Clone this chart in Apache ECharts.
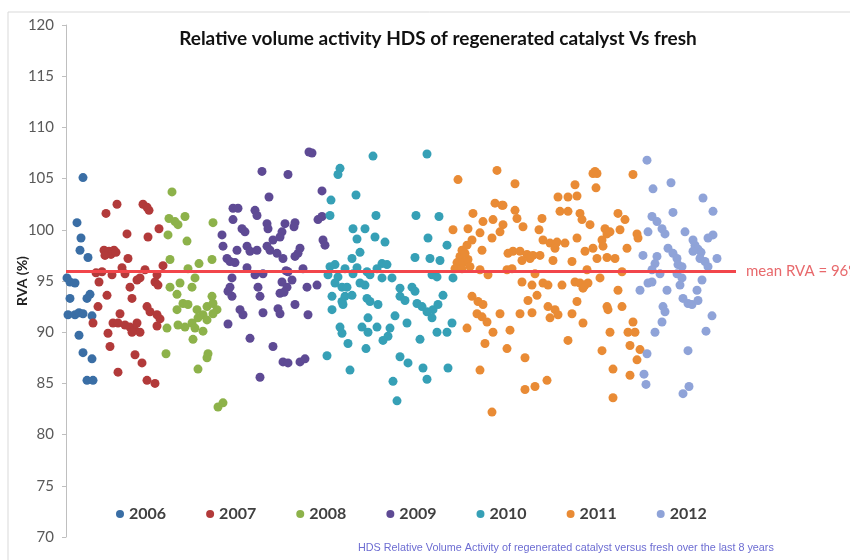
<!DOCTYPE html>
<html>
<head>
<meta charset="utf-8">
<script src="https://cdn.jsdelivr.net/npm/echarts@6/dist/echarts.min.js"></script>
<style>
  html, body { margin: 0; padding: 0; background: #fff; }
  #chart { width: 850px; height: 560px; }
</style>
</head>
<body>
<div id="chart"></div>
<script>
// sample index (x) vs RVA % (y), one array per year
const years = ['2006', '2007', '2008', '2009', '2010', '2011', '2012']
const colors = ['#3A6EA5', '#B23A3A', '#8DB24A', '#5E4A94', '#36A0B6', '#E98B35', '#8FA3D8']
const meanRVA = 96
const yTicks = { min: 70, max: 120, step: 5 }

const s2006 = [
  [17,105.1],[11,100.7],[15,99.2],[14,98.0],[22,97.3],[1,95.3],[4,94.9],[9,94.8],[4,93.3],[24,93.7],[21,93.3],
  [2,91.7],[9,91.7],[13,91.9],[17,91.8],[26,91.6],[13,89.7],[17,88.0],[26,87.4],[21,85.3],[27,85.3]
]
const s2007 = [
  [51,102.5],[40,101.6],[77,102.5],[83,101.9],[81,102.2],[93,100.1],[61,99.6],[82,99.3],
  [38,98.0],[43,97.9],[48,98.0],[45,97.6],[39,97.5],[50,97.8],[62,97.2],[97,96.5],
  [30,95.8],[36,95.9],[46,95.6],[56,96.3],[59,95.7],[74,95.3],[79,96.1],[71,95.1],[91,95.6],
  [33,94.9],[64,94.4],[89,94.9],[92,94.6],[41,93.6],[66,93.3],
  [81,92.5],[84,92.0],[91,91.7],[94,91.3],[32,92.5],[54,91.8],[27,90.9],
  [47,90.9],[52,90.9],[59,90.7],[64,90.5],[71,90.9],[69,90.2],[74,90.0],[66,90.0],
  [91,90.6],[42,89.9],[44,88.6],[69,87.8],[76,87.0],[52,86.1],[81,85.3],[89,85.0]
]
const s2008 = [
  [106,103.7],[103,101.1],[109,100.8],[112,100.5],[119,101.3],[147,100.7],[102,99.5],[121,98.9],
  [104,97.1],[133,96.7],[146,97.1],[122,96.2],[129,95.3],[114,94.8],[104,94.4],[126,94.4],
  [111,93.7],[146,93.5],[117,92.8],[122,92.7],[111,92.2],[131,92.2],[141,92.5],[147,92.8],[151,92.2],
  [137,91.7],[132,91.4],[126,90.9],[112,90.7],[119,90.5],[129,90.4],[137,90.1],[101,90.4],[147,91.8],[141,91.2],
  [127,89.3],[100,87.9],[142,87.9],[141,87.5],[132,86.4],[152,82.7],[157,83.1]
]
const s2009 = [
  [196,105.7],[222,105.4],[203,103.2],[167,102.1],[172,102.1],[189,101.9],[191,101.4],[167,101.0],
  [176,100.1],[179,99.8],[201,100.6],[202,100.1],[216,99.8],[214,99.3],[207,99.0],[219,100.6],
  [156,99.5],[157,98.4],[171,98.0],[181,98.4],[184,97.9],[191,98.0],[201,98.4],[204,98.0],[211,97.7],[217,97.2],
  [161,97.2],[164,96.9],[169,96.8],[181,96.3],[166,95.3],[164,94.4],[166,93.5],[162,94.0],
  [189,95.6],[197,95.7],[192,94.4],[194,93.5],[216,94.9],[221,94.4],[214,93.8],
  [174,92.2],[177,91.7],[197,91.9],[212,92.3],[214,91.8],[162,90.8],[184,89.4],[207,88.6],
  [217,87.1],[222,87.0],[234,87.1],[239,87.4],[194,85.6],
  [246,107.5],[243,107.6],[256,103.8],[229,100.7],[228,100.3],[252,101.0],[256,101.3],[257,99.0],[259,98.5],
  [234,98.2],[232,97.7],[229,97.4],[237,96.2],[226,95.1],[241,94.4],[251,94.6],[229,92.7],[242,91.7],
  [220,96.0],[222,95.9],[218,93.9]
]
const s2010 = [
  [307,107.2],[361,107.4],[274,106.0],[272,105.4],[265,102.9],[290,103.4],[264,101.4],[310,101.4],[350,101.4],[373,101.3],
  [287,100.1],[299,100.1],[291,99.1],[309,99.3],[319,98.8],[362,99.2],[381,98.5],[294,97.8],[286,97.2],
  [349,97.3],[364,97.2],[374,97.0],[316,96.7],[321,96.6],[311,96.2],[264,96.4],[269,96.6],[279,96.2],[291,96.3],[301,95.9],
  [262,95.6],[272,95.4],[287,95.7],[304,95.6],[316,95.3],[326,95.3],[366,95.6],[371,95.4],[387,95.3],
  [269,94.8],[276,94.4],[281,94.4],[294,94.8],[299,94.6],[334,94.3],[346,94.4],[349,94.0],
  [266,93.5],[279,93.5],[286,93.6],[301,93.3],[304,93.0],[312,92.7],[334,93.5],[339,93.1],[351,92.8],[356,92.5],
  [361,92.0],[367,92.2],[372,92.7],[377,93.6],[276,93.0],[277,92.7],[266,92.2],[329,91.6],[366,91.4],[302,91.4],
  [296,90.5],[311,90.5],[324,90.4],[341,90.9],[386,90.9],[274,90.5],[276,89.9],[302,90.0],[371,90.0],[381,90.0],
  [322,89.6],[317,89.2],[354,89.3],[282,88.9],[300,88.4],[261,87.7],[334,87.6],[342,87.0],[357,86.5],[382,86.5],
  [284,86.3],[361,85.4],[327,85.2],[331,83.3]
]
const s2011 = [
  [431,105.8],[392,104.9],[429,102.6],[436,102.4],[407,101.6],[417,100.8],[427,101.0],[437,100.5],[387,100.0],[402,100.1],[414,99.7],
  [406,99.0],[401,98.5],[396,98.0],[394,97.4],[391,96.8],[389,96.2],[397,96.8],[402,97.1],[404,96.4],[396,96.2],[399,97.7],
  [416,98.0],[426,99.2],[434,99.8],[422,95.6],[414,96.1],[441,96.1],
  [406,93.5],[412,93.0],[417,92.7],[411,91.8],[421,91.0],[416,91.5],[401,90.4],[427,90.0],[434,91.8],[419,88.9],[414,86.3],[426,82.2],
  [529,105.7],[531,105.5],[527,105.5],[567,105.4],[449,104.5],[509,104.4],[530,104.1],[492,103.2],[502,103.2],[511,103.3],
  [437,102.4],[449,101.9],[451,101.1],[494,101.8],[502,101.8],[514,101.6],[516,101.0],[476,101.1],[552,101.6],[559,101.0],[554,100.0],
  [457,100.3],[524,100.5],[473,100.0],[539,100.1],[541,99.6],[536,99.0],[544,99.8],[571,99.6],[572,99.2],
  [477,99.0],[484,98.7],[491,98.8],[499,98.7],[489,98.2],[511,99.2],[527,98.2],[519,97.9],[537,98.4],[561,98.2],
  [447,97.9],[454,97.9],[461,97.6],[467,97.5],[474,97.5],[464,97.2],[442,97.7],[456,97.0],
  [487,97.0],[506,96.9],[531,97.2],[541,97.3],[549,97.2],[446,96.2],[469,95.7],[521,96.1],[556,95.9],[534,95.3],
  [456,94.9],[466,94.6],[477,94.8],[482,94.6],[496,94.6],[509,94.9],[514,94.8],[519,94.6],[517,94.3],[522,94.8],[552,94.1],
  [471,93.6],[462,93.1],[511,93.0],[482,92.5],[489,92.2],[492,91.7],[484,91.4],[454,91.8],[466,91.9],[506,91.8],
  [541,92.5],[542,92.2],[556,92.5],[517,90.9],[444,90.2],[544,90.0],[567,91.0],[562,90.0],[569,90.0],
  [502,89.2],[441,88.4],[536,88.2],[564,88.7],[574,88.3],[459,87.5],[571,87.3],[547,86.4],[564,85.8],[481,85.3],[469,84.7],[459,84.4],[547,83.6]
]
const s2012 = [
  [581,106.8],[605,104.6],[587,104.0],[637,103.1],[607,101.7],[647,101.8],[586,101.3],[591,100.8],[596,100.1],[599,99.6],[582,99.8],[619,99.8],[647,99.5],[642,99.2],
  [627,99.0],[629,98.5],[632,98.1],[635,97.8],[627,97.9],[634,97.2],[639,96.9],[642,96.4],
  [602,98.2],[607,97.7],[611,97.2],[612,96.6],[616,96.4],[577,97.5],[591,97.4],[589,96.7],[586,96.1],[651,97.2],
  [594,95.7],[611,95.7],[616,95.3],[614,94.6],[636,95.1],[586,94.9],[582,94.8],[574,94.1],[601,94.1],
  [617,93.3],[622,92.8],[626,92.7],[632,93.1],[631,94.1],[597,92.5],[599,92.0],[596,91.0],[589,90.0],[646,91.6],[640,90.1],
  [581,87.9],[622,88.2],[578,85.9],[580,84.9],[617,84.0],[623,84.7]
]
const yearData = [s2006, s2007, s2008, s2009, s2010, s2011, s2012]

const myChart = echarts.init(document.getElementById('chart'), null, { renderer: 'canvas' })

const series = years.map((y, i) => ({
  name: y,
  type: 'scatter',
  symbol: 'circle',
  symbolSize: 9,
  itemStyle: { color: colors[i], opacity: 1 },
  data: yearData[i]
}))
// mean line
series.push({
  name: 'mean',
  type: 'scatter',
  data: [],
  z: 5,
  markLine: {
    silent: true,
    symbol: ['none', 'none'],
    lineStyle: { color: '#F2464B', width: 3, type: 'solid' },
    label: {
      position: 'end',
      distance: 10,
      formatter: 'mean RVA = ' + meanRVA + '%',
      color: '#E8696C',
      fontSize: 15,
      fontFamily: 'Lato'
    },
    data: [{ yAxis: meanRVA }]
  }
})

myChart.setOption({
  animation: false,
  color: colors,
  title: {
    text: 'Relative volume activity HDS of regenerated catalyst Vs fresh',
    left: 433,
    textAlign: 'center',
    top: 24,
    textStyle: { fontFamily: 'Lato', fontWeight: 'bold', fontSize: 19, color: '#111' }
  },
  legend: {
    data: years,
    left: 111,
    top: 501,
    icon: 'circle',
    itemWidth: 8,
    itemHeight: 8,
    itemGap: 40,
    textStyle: { fontFamily: 'Lato', fontWeight: 'bold', fontSize: 16, color: '#404040' }
  },
  grid: { left: 66, right: 114, top: 25, bottom: 23, containLabel: false },
  xAxis: {
    type: 'value',
    min: 0,
    max: 670,
    show: false
  },
  yAxis: {
    type: 'value',
    min: yTicks.min,
    max: yTicks.max,
    interval: yTicks.step,
    name: 'RVA (%)',
    nameLocation: 'middle',
    nameGap: 37,
    nameMoveOverlap: false,
    nameTextStyle: { fontFamily: 'Lato', fontWeight: 'bold', fontSize: 14, color: '#222' },
    axisLine: { show: true, lineStyle: { color: '#BFBFBF', width: 1 } },
    axisTick: { show: true, length: 4, lineStyle: { color: '#BFBFBF' } },
    axisLabel: { margin: 12, fontFamily: 'Lato', fontSize: 15, color: '#595959' },
    splitLine: { show: false }
  },
  graphic: [
    {
      type: 'rect',
      silent: true,
      shape: { x: 8, y: 12, width: 900, height: 700 },
      style: { fill: 'none', stroke: '#D9D9D9', lineWidth: 1 }
    },
    {
      type: 'text',
      left: 358,
      top: 543,
      style: {
        text: 'HDS Relative Volume Activity of regenerated catalyst versus fresh over the last 8 years',
        fontFamily: 'Liberation Sans',
        fontSize: 10.8,
        fill: '#6C6CD2'
      }
    }
  ],
  series: series
})
</script>
</body>
</html>
